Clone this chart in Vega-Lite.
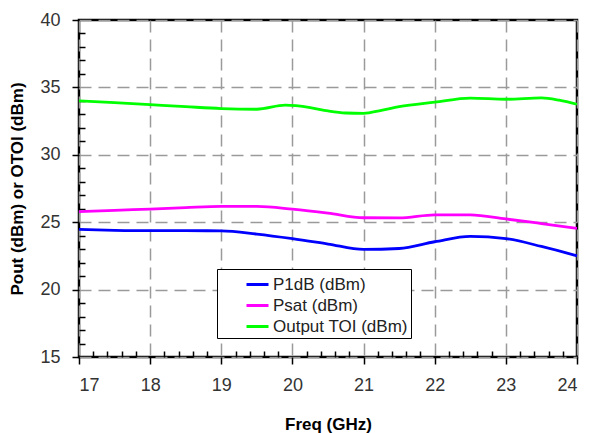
{
  "$schema": "https://vega.github.io/schema/vega-lite/v6.json",
  "width": 498,
  "height": 337,
  "autosize": {"type": "none"},
  "padding": {"left": 79, "top": 20, "right": 12, "bottom": 76},
  "background": "white",
  "config": {
    "font": "Liberation Sans",
    "view": {"stroke": "black", "strokeWidth": 2.5},
    "axis": {
      "domain": false,
      "grid": true,
      "gridColor": "#9a9a9a",
      "gridDash": [12, 7],
      "gridWidth": 1.5,
      "tickColor": "black",
      "tickWidth": 1.5,
      "labelFont": "Liberation Sans",
      "labelFontSize": 18,
      "labelColor": "#333333",
      "labelPadding": 12,
      "titleFont": "Liberation Sans",
      "titleFontSize": 17,
      "titleFontWeight": "bold",
      "titleColor": "black"
    }
  },
  "data": {
    "values": [
      {"f": 17, "s": "P1dB (dBm)", "v": 24.47},
      {"f": 17.5, "s": "P1dB (dBm)", "v": 24.4},
      {"f": 18, "s": "P1dB (dBm)", "v": 24.37},
      {"f": 18.5, "s": "P1dB (dBm)", "v": 24.37},
      {"f": 19, "s": "P1dB (dBm)", "v": 24.36},
      {"f": 19.5, "s": "P1dB (dBm)", "v": 24.12},
      {"f": 20, "s": "P1dB (dBm)", "v": 23.78},
      {"f": 20.5, "s": "P1dB (dBm)", "v": 23.38},
      {"f": 21, "s": "P1dB (dBm)", "v": 22.98},
      {"f": 21.5, "s": "P1dB (dBm)", "v": 23.05},
      {"f": 22, "s": "P1dB (dBm)", "v": 23.55},
      {"f": 22.5, "s": "P1dB (dBm)", "v": 23.95},
      {"f": 23, "s": "P1dB (dBm)", "v": 23.78},
      {"f": 23.5, "s": "P1dB (dBm)", "v": 23.2},
      {"f": 24, "s": "P1dB (dBm)", "v": 22.5},
      {"f": 17, "s": "Psat (dBm)", "v": 25.78},
      {"f": 17.5, "s": "Psat (dBm)", "v": 25.88},
      {"f": 18, "s": "Psat (dBm)", "v": 25.97},
      {"f": 18.5, "s": "Psat (dBm)", "v": 26.08},
      {"f": 19, "s": "Psat (dBm)", "v": 26.17},
      {"f": 19.5, "s": "Psat (dBm)", "v": 26.17},
      {"f": 20, "s": "Psat (dBm)", "v": 25.97},
      {"f": 20.5, "s": "Psat (dBm)", "v": 25.68},
      {"f": 21, "s": "Psat (dBm)", "v": 25.33},
      {"f": 21.5, "s": "Psat (dBm)", "v": 25.32},
      {"f": 22, "s": "Psat (dBm)", "v": 25.55},
      {"f": 22.5, "s": "Psat (dBm)", "v": 25.55},
      {"f": 23, "s": "Psat (dBm)", "v": 25.24},
      {"f": 23.5, "s": "Psat (dBm)", "v": 24.9},
      {"f": 24, "s": "Psat (dBm)", "v": 24.55},
      {"f": 17, "s": "Output TOI (dBm)", "v": 34.0},
      {"f": 17.5, "s": "Output TOI (dBm)", "v": 33.87},
      {"f": 18, "s": "Output TOI (dBm)", "v": 33.72},
      {"f": 18.5, "s": "Output TOI (dBm)", "v": 33.57},
      {"f": 19, "s": "Output TOI (dBm)", "v": 33.43},
      {"f": 19.5, "s": "Output TOI (dBm)", "v": 33.38},
      {"f": 19.9, "s": "Output TOI (dBm)", "v": 33.68},
      {"f": 20.25, "s": "Output TOI (dBm)", "v": 33.5},
      {"f": 20.5, "s": "Output TOI (dBm)", "v": 33.25},
      {"f": 20.75, "s": "Output TOI (dBm)", "v": 33.1},
      {"f": 21, "s": "Output TOI (dBm)", "v": 33.08},
      {"f": 21.25, "s": "Output TOI (dBm)", "v": 33.3},
      {"f": 21.5, "s": "Output TOI (dBm)", "v": 33.57},
      {"f": 22, "s": "Output TOI (dBm)", "v": 33.9},
      {"f": 22.5, "s": "Output TOI (dBm)", "v": 34.2},
      {"f": 23, "s": "Output TOI (dBm)", "v": 34.12},
      {"f": 23.5, "s": "Output TOI (dBm)", "v": 34.22},
      {"f": 23.75, "s": "Output TOI (dBm)", "v": 34.05},
      {"f": 24, "s": "Output TOI (dBm)", "v": 33.75}
    ]
  },
  "mark": {"type": "line", "strokeWidth": 2.8, "interpolate": "monotone"},
  "encoding": {
    "x": {
      "field": "f",
      "type": "quantitative",
      "scale": {"domain": [17, 24], "nice": false},
      "axis": {
        "title": "Freq (GHz)",
        "titlePadding": 22,
        "values": [17, 17.2, 17.4, 17.6, 17.8, 18, 18.2, 18.4, 18.6, 18.8, 19, 19.2, 19.4, 19.6, 19.8, 20, 20.2, 20.4, 20.6, 20.8, 21, 21.2, 21.4, 21.6, 21.8, 22, 22.2, 22.4, 22.6, 22.8, 23, 23.2, 23.4, 23.6, 23.8, 24],
        "labelExpr": "abs(datum.value - round(datum.value)) < 0.01 ? '' + round(datum.value) : ''",
        "tickSize": {"condition": {"test": "abs(datum.value - round(datum.value)) < 0.01", "value": 7}, "value": -6},
        "gridOpacity": {"condition": {"test": "abs(datum.value - round(datum.value)) < 0.01", "value": 1}, "value": 0}
      }
    },
    "y": {
      "field": "v",
      "type": "quantitative",
      "scale": {"domain": [15, 40], "nice": false},
      "axis": {
        "title": "Pout (dBm) or OTOI (dBm)",
        "titlePadding": 13,
        "values": [15, 16, 17, 18, 19, 20, 21, 22, 23, 24, 25, 26, 27, 28, 29, 30, 31, 32, 33, 34, 35, 36, 37, 38, 39, 40],
        "labelExpr": "datum.value % 5 == 0 ? '' + datum.value : ''",
        "tickSize": {"condition": {"test": "datum.value % 5 == 0", "value": 7}, "value": -6},
        "gridOpacity": {"condition": {"test": "datum.value % 5 == 0", "value": 1}, "value": 0}
      }
    },
    "color": {
      "field": "s",
      "type": "nominal",
      "sort": null,
      "scale": {
        "domain": ["P1dB (dBm)", "Psat (dBm)", "Output TOI (dBm)"],
        "range": ["#0000ff", "#ff00ff", "#00ff00"]
      },
      "legend": {
        "title": null,
        "orient": "none",
        "legendX": 138,
        "legendY": 249,
        "direction": "vertical",
        "fillColor": "white",
        "strokeColor": "black",
        "padding": 3,
        "symbolType": "stroke",
        "symbolStrokeWidth": 3,
        "symbolSize": 484,
        "symbolOffset": 25,
        "labelOffset": 3,
        "labelFont": "Liberation Sans",
        "labelFontSize": 17,
        "labelColor": "#222222",
        "rowPadding": -3
      }
    }
  }
}
